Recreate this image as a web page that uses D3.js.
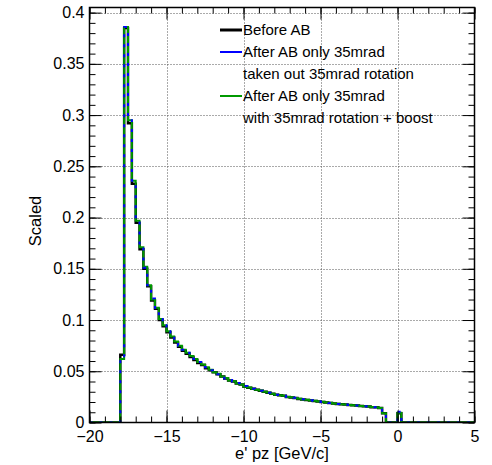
<!DOCTYPE html>
<html lang="en">
<head>
  <meta charset="UTF-8">
  <title>e' pz</title>
  <script src="https://d3js.org/d3.v7.min.js"></script>
  <style>
    body, html {
      margin: 0;
      padding: 0;
      background: #fff;
    }
    svg {
      display: block;
      font-family: "Liberation Sans", Arial, Helvetica, sans-serif;
    }
    .grid line {
      stroke: #555;
      stroke-width: 1;
      stroke-dasharray: 1,2;
    }
    .tick line {
      stroke: #000;
    }
  </style>
</head>
<body>
  <svg id="chart" width="492" height="465"></svg>

  <script>
    // binning of the three histograms
    const xMin = -20, xMax = 5, binWidth = 0.25;

    // bin contents, 100 bins from -20 to 5
    const before = [
      0, 0, 0, 0, 0, 0, 0, 0,
      0.066, 0.385, 0.292, 0.233, 0.195, 0.169, 0.150, 0.133, 0.119, 0.111,
      0.100, 0.094, 0.088, 0.083, 0.078, 0.074, 0.070, 0.067, 0.064, 0.061,
      0.058, 0.056, 0.053, 0.051, 0.049, 0.047, 0.045, 0.043, 0.041, 0.040,
      0.038, 0.037, 0.035, 0.034, 0.033, 0.032, 0.031, 0.030, 0.029, 0.028,
      0.027, 0.0265, 0.026, 0.025, 0.0245, 0.024, 0.023, 0.0225, 0.022, 0.0215,
      0.021, 0.0205, 0.020, 0.0195, 0.019, 0.0185, 0.018, 0.0178, 0.0175, 0.017,
      0.0168, 0.0165, 0.016, 0.0158, 0.0155, 0.015, 0.0148, 0.0142, 0.009,
      0, 0, 0, 0.009,
      0, 0, 0, 0, 0, 0, 0, 0, 0, 0, 0, 0, 0, 0, 0, 0, 0, 0, 0
    ];
    const afterTakenOut = [
      0, 0, 0, 0, 0, 0, 0, 0,
      0.063, 0.386, 0.295, 0.236, 0.197, 0.171, 0.151, 0.134, 0.121, 0.112,
      0.101, 0.095, 0.089, 0.084, 0.079, 0.075, 0.071, 0.068, 0.065, 0.062,
      0.059, 0.056, 0.054, 0.051, 0.0495, 0.047, 0.0455, 0.043, 0.0415, 0.040,
      0.0385, 0.037, 0.0355, 0.034, 0.033, 0.0322, 0.031, 0.0302, 0.029, 0.0282,
      0.027, 0.0268, 0.026, 0.0252, 0.0245, 0.0242, 0.023, 0.0228, 0.022, 0.0217,
      0.021, 0.0207, 0.020, 0.0197, 0.019, 0.0187, 0.018, 0.0178, 0.0176, 0.0171,
      0.0168, 0.0166, 0.016, 0.0158, 0.0156, 0.0151, 0.0148, 0.0138, 0.0085,
      0, 0, 0, 0.0105,
      0, 0, 0, 0, 0, 0, 0, 0, 0, 0, 0, 0, 0, 0, 0, 0, 0, 0, 0
    ];
    const afterBoost = [
      0, 0, 0, 0, 0, 0, 0, 0,
      0.062, 0.386, 0.295, 0.236, 0.197, 0.171, 0.152, 0.134, 0.120, 0.112,
      0.101, 0.095, 0.089, 0.084, 0.079, 0.075, 0.071, 0.068, 0.065, 0.062,
      0.059, 0.0565, 0.054, 0.0515, 0.049, 0.0475, 0.045, 0.0435, 0.041, 0.0402,
      0.038, 0.0372, 0.035, 0.0342, 0.033, 0.032, 0.0312, 0.030, 0.0292, 0.028,
      0.0272, 0.0265, 0.0262, 0.025, 0.0247, 0.024, 0.0232, 0.0225, 0.0222, 0.0215,
      0.0212, 0.0205, 0.0202, 0.0195, 0.0192, 0.0185, 0.0182, 0.0178, 0.0175, 0.0172,
      0.0168, 0.0165, 0.0162, 0.0158, 0.0155, 0.0152, 0.0148, 0.0141, 0.009,
      0, 0, 0, 0.0095,
      0, 0, 0, 0, 0, 0, 0, 0, 0, 0, 0, 0, 0, 0, 0, 0, 0, 0, 0
    ];

    const xTicks = [-20, -15, -10, -5, 0, 5];
    const yTicks = [0, 0.05, 0.1, 0.15, 0.2, 0.25, 0.3, 0.35, 0.4];
    const legendLabels = [
      "Before AB",
      "After AB only 35mrad",
      "taken out 35mrad rotation",
      "After AB only 35mrad",
      "with 35mrad rotation + boost"
    ];
    const xTitle = "e' pz [GeV/c]";
    const yTitle = "Scaled";

    const svg = d3.select("#chart");
    const frame = { left: 89.5, right: 474.5, top: 7.5, bottom: 422.5 };

    const x = d3.scaleLinear().domain([xMin, xMax]).range([frame.left, frame.right]);
    const y = d3.scaleLinear().domain([0, 0.405]).range([frame.bottom, frame.top]);

    svg.append("rect")
      .attr("width", 492).attr("height", 465).attr("fill", "#fff");

    // dotted grid
    const grid = svg.append("g").attr("class", "grid");
    grid.selectAll(".gx")
      .data(xTicks.filter(d => d > xMin && d < xMax))
      .join("line")
      .attr("x1", d => Math.round(x(d)) + 0.5).attr("x2", d => Math.round(x(d)) + 0.5)
      .attr("y1", frame.top).attr("y2", frame.bottom);
    grid.selectAll(".gy")
      .data(yTicks.filter(d => d > 0))
      .join("line")
      .attr("y1", d => Math.round(y(d)) + 0.5).attr("y2", d => Math.round(y(d)) + 0.5)
      .attr("x1", frame.left).attr("x2", frame.right);

    // histograms as step outlines
    function stepPoints(vals) {
      const pts = [];
      vals.forEach((v, i) => {
        const lo = xMin + i * binWidth;
        pts.push([lo, v], [lo + binWidth, v]);
      });
      return pts;
    }
    const line = d3.line().x(d => x(d[0])).y(d => y(d[1]));

    svg.append("defs").append("clipPath").attr("id", "clip")
      .append("rect")
      .attr("x", frame.left).attr("y", frame.top)
      .attr("width", frame.right - frame.left).attr("height", frame.bottom - frame.top);

    const plot = svg.append("g").attr("clip-path", "url(#clip)");
    plot.append("path")
      .attr("d", line(stepPoints(before)))
      .attr("fill", "none").attr("stroke", "#000").attr("stroke-width", 2.5);
    plot.append("path")
      .attr("d", line(stepPoints(afterBoost)))
      .attr("fill", "none").attr("stroke", "#009900").attr("stroke-width", 2);
    plot.append("path")
      .attr("d", line(stepPoints(afterTakenOut)))
      .attr("fill", "none").attr("stroke", "#0000ff").attr("stroke-width", 2)
      .attr("stroke-dasharray", "3,7");

    // axes, ticks pointing inwards
    const xMinor = d3.range(xMin, xMax + 0.001, 1);
    const yMinor = d3.range(0, 0.4001, 0.01);
    const fmtY = d => d === 0 ? "0" : d3.format(".2~f")(d);

    function styleAxis(g) {
      g.select(".domain").remove();
      g.selectAll("text").attr("font-size", 16).attr("font-family", "Liberation Sans, Arial, sans-serif").attr("fill", "#000");
    }

    svg.append("g").attr("transform", `translate(0,${frame.bottom})`)
      .call(d3.axisBottom(x).tickValues(xTicks).tickSize(-12).tickPadding(8).tickFormat(d3.format("d")))
      .call(styleAxis);
    svg.append("g").attr("transform", `translate(0,${frame.bottom})`)
      .call(d3.axisBottom(x).tickValues(xMinor).tickSize(-6).tickFormat(""))
      .call(styleAxis);
    svg.append("g").attr("transform", `translate(0,${frame.top})`)
      .call(d3.axisTop(x).tickValues(xTicks).tickSize(-12).tickFormat(""))
      .call(styleAxis);
    svg.append("g").attr("transform", `translate(0,${frame.top})`)
      .call(d3.axisTop(x).tickValues(xMinor).tickSize(-6).tickFormat(""))
      .call(styleAxis);

    svg.append("g").attr("transform", `translate(${frame.left},0)`)
      .call(d3.axisLeft(y).tickValues(yTicks).tickSize(-12).tickPadding(5).tickFormat(fmtY))
      .call(styleAxis);
    svg.append("g").attr("transform", `translate(${frame.left},0)`)
      .call(d3.axisLeft(y).tickValues(yMinor).tickSize(-6).tickFormat(""))
      .call(styleAxis);
    svg.append("g").attr("transform", `translate(${frame.right},0)`)
      .call(d3.axisRight(y).tickValues(yTicks).tickSize(-12).tickFormat(""))
      .call(styleAxis);
    svg.append("g").attr("transform", `translate(${frame.right},0)`)
      .call(d3.axisRight(y).tickValues(yMinor).tickSize(-6).tickFormat(""))
      .call(styleAxis);

    svg.append("rect")
      .attr("x", frame.left).attr("y", frame.top)
      .attr("width", frame.right - frame.left).attr("height", frame.bottom - frame.top)
      .attr("fill", "none").attr("stroke", "#000").attr("stroke-width", 1.5);

    // axis titles
    svg.append("text")
      .attr("x", (frame.left + frame.right) / 2).attr("y", 459)
      .attr("text-anchor", "middle").attr("font-size", 16.5)
      .text(xTitle);
    svg.append("text")
      .attr("transform", "translate(41,221) rotate(-90)")
      .attr("text-anchor", "middle").attr("font-size", 16.5)
      .text(yTitle);

    // legend
    const legendColors = ["#000", "#0000ff", null, "#009900", null];
    const legendWidths = [3, 2, 0, 2, 0];
    const legend = svg.append("g").attr("transform", "translate(220,30)");
    legendLabels.forEach((label, i) => {
      const row = legend.append("g").attr("transform", `translate(0,${i * 22})`);
      if (legendColors[i]) {
        row.append("line")
          .attr("x1", 0).attr("x2", 22).attr("y1", 0).attr("y2", 0)
          .attr("stroke", legendColors[i]).attr("stroke-width", legendWidths[i]);
      }
      row.append("text")
        .attr("x", 23).attr("y", 0).attr("dy", "0.36em")
        .attr("font-size", 15)
        .text(label);
    });
  </script>
</body>
</html>
